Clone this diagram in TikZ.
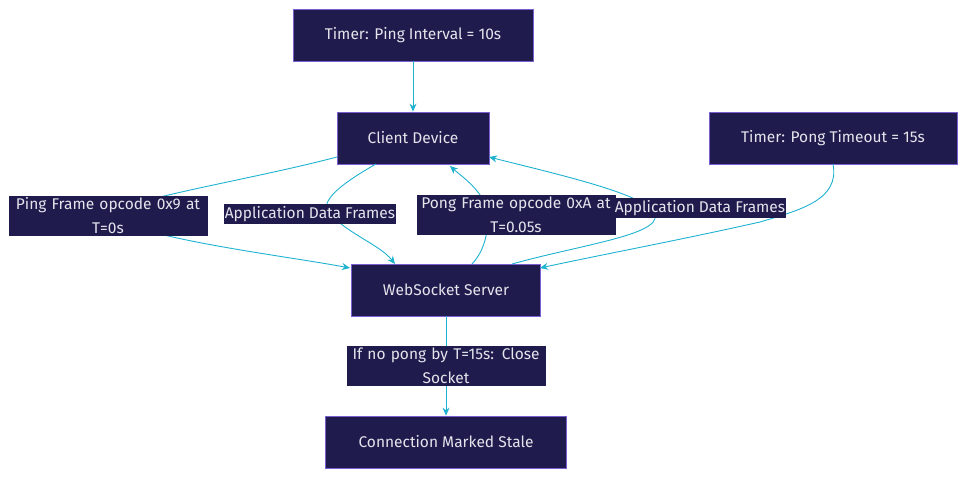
\documentclass[tikz,border=0pt]{standalone}
\usepackage{fontspec}
\setmainfont{Fira Sans}
\usetikzlibrary{arrows.meta}
\definecolor{nfill}{HTML}{1F1B4D}
\definecolor{nbord}{HTML}{7B5FD0}
\definecolor{ntext}{HTML}{E4E4EC}
\definecolor{edge}{HTML}{1FB2CF}
\begin{document}
\begin{tikzpicture}[x=1pt,y=-1pt,
  box/.style={draw=nbord,fill=nfill,text=ntext,line width=0.8pt,minimum height=52pt,font=\fontsize{15.5}{24}\selectfont,inner sep=0pt},
  lbl/.style={fill=nfill,text=ntext,font=\fontsize{15.5}{24}\selectfont,align=center,inner xsep=1pt,inner ysep=2pt},
  conn/.style={draw=edge,line width=0.9pt,-{Stealth[length=8pt,width=7pt]}}]
\useasboundingbox (0,0) rectangle (965,478);
\node[box,minimum width=240pt] (tp) at (413,35) {Timer: Ping Interval = 10s};
\node[box,minimum width=152pt] (cd) at (413,138) {Client Device};
\node[box,minimum width=248pt] (tt) at (833,138) {Timer: Pong Timeout = 15s};
\node[box,minimum width=189pt] (ws) at (446,290) {WebSocket Server};
\node[box,minimum width=241pt] (st) at (446,442) {Connection Marked Stale};
\coordinate (c1) at (337,157);
\coordinate (c2) at (376,164);
\coordinate (c3) at (450,166);
\coordinate (c4) at (489,157);
\coordinate (s1) at (350,268);
\coordinate (s2) at (395,264);
\coordinate (s3) at (472,264);
\coordinate (s4) at (512,264);
\coordinate (s5) at (540,268);
\coordinate (t1) at (833,164);
\draw[conn] (tp) -- (cd);
\draw[conn] (c1) .. controls (250,180) and (120,200) .. (108,216) .. controls (150,240) and (280,255) .. (s1);
\draw[conn] (c2) .. controls (330,190) and (320,205) .. (330,214) .. controls (350,235) and (380,245) .. (s2);
\draw[conn] (s3) .. controls (490,245) and (490,215) .. (483,200) .. controls (475,185) and (460,175) .. (c3);
\draw[conn] (s4) .. controls (580,245) and (660,235) .. (655,215) .. controls (650,195) and (560,175) .. (c4);
\draw[conn] (t1) .. controls (840,200) and (800,210) .. (760,222) .. controls (680,240) and (600,255) .. (s5);
\draw[conn] (ws) -- (st);
\node[lbl,text width=197pt] (l1) at (108,216) {Ping Frame opcode 0x9 at\\T=0s};
\node[lbl] (l2) at (310,214) {Application Data Frames};
\node[lbl,text width=197pt] (l3) at (516,215) {Pong Frame opcode 0xA at\\T=0.05s};
\node[lbl] (l4) at (700,208) {Application Data Frames};
\node[lbl,text width=197pt] (l5) at (446,366) {If no pong by T=15s: Close\\Socket};
\end{tikzpicture}
\end{document}
